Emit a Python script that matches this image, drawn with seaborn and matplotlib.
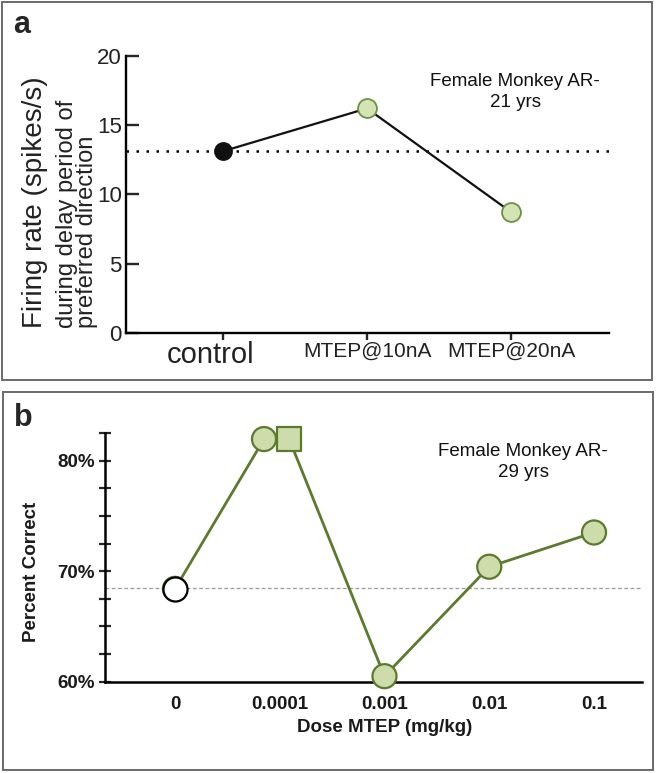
import matplotlib
matplotlib.use('Agg')
import matplotlib.pyplot as plt
from matplotlib.patches import Rectangle
from matplotlib.transforms import ScaledTranslation
import seaborn as sns
import pandas as pd

# panel a data: firing rate under iontophoresis
cond_labels = ['control', 'MTEP@10nA', 'MTEP@20nA']
firing_rate = [13.1, 16.2, 8.7]
firing_baseline = 13.1

# panel b data: percent correct vs systemic dose
dose_labels = ['0', '0.0001', '0.001', '0.01', '0.1']
point_dose = ['0', '0.0001', '0.0001', '0.001', '0.01', '0.1']
pct_correct = [68.4, 81.95, 81.95, 60.5, 70.4, 73.5]
point_kind = ['vehicle', 'drug', 'repeat', 'drug', 'drug', 'drug']
pct_baseline = 68.45

W, H = 657, 773
sns.set_theme(style='white')
plt.rcParams['font.family'] = ['Liberation Sans', 'DejaVu Sans']

fig = plt.figure(figsize=(W / 100, H / 100), dpi=100)


def fx(x):
    return x / W


def fy(y):
    return 1 - y / H


# panel frames
fig.add_artist(Rectangle((fx(2), fy(380)), fx(650), 378 / H, transform=fig.transFigure,
                         fill=False, edgecolor='#6a6a6a', lw=1.4))
fig.add_artist(Rectangle((fx(3), fy(770)), fx(650), 378 / H, transform=fig.transFigure,
                         fill=False, edgecolor='#6a6a6a', lw=1.4))

# ---------------- panel a ----------------
ax1 = fig.add_axes([fx(126), fy(333), fx(609 - 126), (333 - 55.7) / H])
df_a = pd.DataFrame({'cond': cond_labels, 'rate': firing_rate})
df_a['pos'] = range(len(cond_labels))
ax1.axhline(firing_baseline, color='black', lw=1.8, ls=(0, (1, 3)), zorder=1)
sns.lineplot(data=df_a, x='pos', y='rate', color='#111111', lw=1.6, sort=False, ax=ax1, zorder=2)
face_a = ['#111111' if c == 'control' else '#d3e4b5' for c in cond_labels]
edge_a = ['#111111' if c == 'control' else '#6f8f45' for c in cond_labels]
size_a = [150 if c == 'control' else 185 for c in cond_labels]
for i in range(len(df_a)):
    sns.scatterplot(x=[df_a['pos'][i]], y=[df_a['rate'][i]], s=size_a[i], color=face_a[i],
                    edgecolor=edge_a[i], linewidth=1.3, ax=ax1, zorder=3, clip_on=False)

ax1.set_xlim(-0.668, 2.675)
ax1.set_ylim(0, 20)
ax1.set_yticks([0, 5, 10, 15, 20])
ax1.set_xticks(range(len(cond_labels)))
ax1.set_xticklabels(cond_labels, fontsize=15, color='#222222')
ax1.set_xlabel('')
ax1.set_ylabel('')
for s in ['top', 'right']:
    ax1.spines[s].set_visible(False)
for s in ['left', 'bottom']:
    ax1.spines[s].set_linewidth(1.7)
    ax1.spines[s].set_color('black')
ax1.tick_params(axis='y', direction='in', length=9, width=1.7, pad=3, labelsize=16,
                left=True, labelcolor='#222222')
ax1.tick_params(axis='x', direction='out', length=5, width=1.7, pad=1, bottom=True)
ctl = ax1.get_xticklabels()[0]
ctl.set_fontsize(21)
ctl.set_transform(ctl.get_transform() + ScaledTranslation(-0.12, 0, fig.dpi_scale_trans))

fig.text(fx(35), fy(328), 'Firing rate (spikes/s)', rotation=90, ha='center', va='bottom',
         fontsize=20, color='#222222')
fig.text(fx(77), fy(328), 'during delay period of\npreferred direction', rotation=90,
         ha='center', va='bottom', ma='left', fontsize=17, linespacing=0.85, color='#222222')
fig.text(fx(515), fy(92), 'Female Monkey AR-\n21 yrs', ha='center', va='center',
         fontsize=13.5, linespacing=1.25, color='#111111')
fig.text(fx(13), fy(25), 'a', fontsize=22, fontweight='bold', va='center', ha='left')

# ---------------- panel b ----------------
ax2 = fig.add_axes([fx(105), fy(681.7), fx(642 - 105), (681.7 - 433) / H])
offsets = {'vehicle': 0.0, 'drug': 0.0, 'repeat': 0.09}
df_b = pd.DataFrame({'dose': point_dose, 'pct': pct_correct, 'kind': point_kind})
df_b['pos'] = [dose_labels.index(d) for d in point_dose]
# two sessions at the same dose sit side by side
dup = df_b.duplicated('dose', keep=False)
df_b['pos'] = df_b['pos'] + [(-0.15 if (dup[i] and k == 'drug') else offsets[k])
                             for i, k in enumerate(df_b['kind'])]

ax2.axhline(pct_baseline, color='#9a9a9a', lw=0.9, ls=(0, (3, 2)), zorder=1)
sns.lineplot(data=df_b, x='pos', y='pct', color='#5c7a2e', lw=2.0, sort=False, ax=ax2, zorder=2)
sns.scatterplot(data=df_b, x='pos', y='pct', hue='kind', style='kind',
                palette={'vehicle': 'white', 'drug': '#cddcaa', 'repeat': '#cddcaa'},
                markers={'vehicle': 'o', 'drug': 'o', 'repeat': 's'},
                s=300, edgecolor='#5c7a2e', linewidth=1.6, legend=False, ax=ax2, zorder=3,
                clip_on=False)
# vehicle point has a black outline
veh = df_b[df_b['kind'] == 'vehicle']
sns.scatterplot(x=veh['pos'], y=veh['pct'], s=300, color='white', edgecolor='black',
                linewidth=1.6, ax=ax2, zorder=4, clip_on=False)

ax2.set_xlim(-0.668, 4.458)
ax2.set_ylim(60, 82.45)
ax2.set_yticks([60 + 2.5 * i for i in range(10)])
ax2.set_yticklabels(['60%' if v == 0 else '70%' if v == 4 else '80%' if v == 8 else ''
                     for v in range(10)])
ax2.set_xticks(range(len(dose_labels)))
ax2.set_xticklabels(dose_labels)
ax2.set_xlabel('')
ax2.set_ylabel('')
for s in ['top', 'right']:
    ax2.spines[s].set_visible(False)
for s in ['left', 'bottom']:
    ax2.spines[s].set_linewidth(1.8)
    ax2.spines[s].set_color('black')
ax2.tick_params(axis='y', direction='inout', length=9, width=1.6, pad=3, labelsize=13.5,
                left=True)
ax2.tick_params(axis='x', length=0, pad=10, labelsize=13.5)
for lab in ax2.get_xticklabels() + ax2.get_yticklabels():
    lab.set_fontweight('bold')
    lab.set_color('#1a1a1a')

fig.text(fx(31), fy(571.5), 'Percent Correct', rotation=90, ha='center', va='center',
         fontsize=13.5, fontweight='bold', color='#1a1a1a')
fig.text(fx(385), fy(727), 'Dose MTEP (mg/kg)', ha='center', va='center',
         fontsize=13.5, fontweight='bold', color='#1a1a1a')
fig.text(fx(523), fy(462), 'Female Monkey AR-\n29 yrs', ha='center', va='center',
         fontsize=13.5, linespacing=1.25, color='#111111')
fig.text(fx(14), fy(418), 'b', fontsize=22, fontweight='bold', va='center', ha='left')

fig.savefig('out.png', dpi=100)
